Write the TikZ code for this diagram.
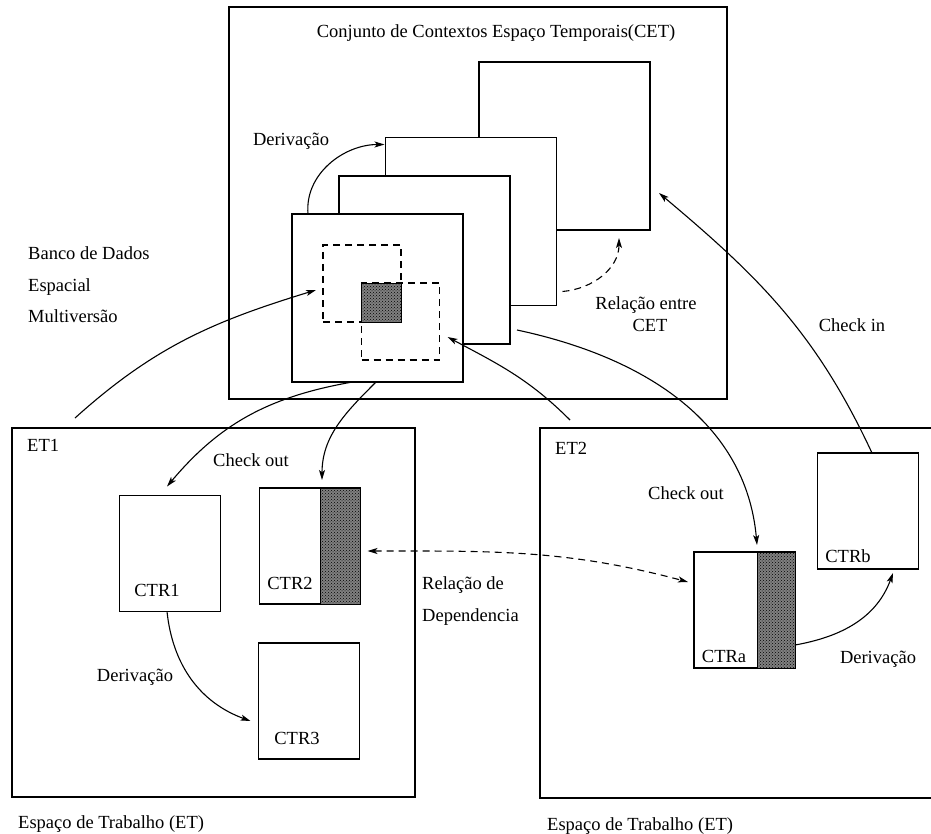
\documentclass[tikz,border=0pt]{standalone}
\usepackage{fontspec}
\setmainfont{Liberation Serif}
\usepackage{tikz}
\usetikzlibrary{arrows.meta, positioning, calc, patterns}

\begin{document}
\begin{tikzpicture}[x=1pt, y=1pt,
  box/.style={draw, line width=1.2pt, fill=white, inner sep=0pt, outer sep=0pt},
  layer/.style={box, minimum width=171pt, minimum height=168pt},
  ctr/.style={box, minimum width=101pt, minimum height=116pt},
  dbox/.style={draw, line width=1.2pt, dash pattern=on 7pt off 5pt, inner sep=0pt, outer sep=0pt,
               minimum width=78pt, minimum height=77pt},
  hatchfill/.style={draw, line width=1pt, fill=black!50, postaction={pattern=crosshatch dots, pattern color=black}},
  lbl/.style={font=\fontsize{18.5}{22}\selectfont, inner sep=0pt},
  arr/.style={-{Stealth[length=10pt, width=6pt, inset=2.5pt]}, line width=1.1pt},
  darr/.style={arr, dash pattern=on 7pt off 5pt}
]
\useasboundingbox (0,0) rectangle (931,-834);

\node[box, minimum width=498pt, minimum height=392pt] (cet) at (478,-203) {};
\node[layer] (layer4) at (564.5,-146) {};
\node[layer] (layer3) at (471,-221.5) {};
\node[layer] (layer2) at (424.5,-260) {};
\node[layer] (layer1) at (377.5,-298) {};
\node[dbox] (dashA) at (362,-283.5) {};
\node[dbox] (dashB) at (400.5,-321.5) {};
\filldraw[hatchfill] (dashB.north west) rectangle (dashA.south east);

\node[box, minimum width=403pt, minimum height=369pt] (et1) at (213.5,-612.5) {};
\node[box, draw=none, minimum width=420pt, minimum height=370pt] (et2) at (750,-613) {};
\draw[line width=1.2pt] (et2.north east) -- (et2.north west) -- (et2.south west) -- (et2.south east);

\node[ctr] (ctr1) at (170,-553.5) {};
\node[ctr] (ctr2) at (310,-546) {};
\node[ctr] (ctr3) at (309,-701) {};
\node[ctr] (ctra) at (744.5,-610) {};
\node[ctr] (ctrb) at (868,-511) {};
\filldraw[hatchfill] ([xshift=-40pt]ctr2.north east) rectangle (ctr2.south east);
\filldraw[hatchfill] ([xshift=-38pt]ctra.north east) rectangle (ctra.south east);

\node[lbl, anchor=base] (titulo) at (496,-38) {Conjunto de Contextos Espaço Temporais(CET)};
\node[lbl, anchor=base] (derivtop) at (291,-146) {Derivação};
\node[lbl, anchor=base west] (banco) at (28,-260) {Banco de Dados};
\node[lbl, anchor=base west] (espacial) at (28,-291) {Espacial};
\node[lbl, anchor=base west] (multi) at (28,-322) {Multiversão};
\node[lbl, anchor=base] (relcet) at (646,-309) {Relação entre};
\node[lbl, anchor=base] (relcet2) at (650,-331) {CET};
\node[lbl, anchor=base] (checkin) at (852,-331) {Check in};
\node[lbl, anchor=base west] (et1lbl) at (27,-451) {ET1};
\node[lbl, anchor=base] (chkout1) at (251,-466) {Check out};
\node[lbl, anchor=base] (ctr1lbl) at (157,-596) {CTR1};
\node[lbl, anchor=base] (ctr2lbl) at (290,-589) {CTR2};
\node[lbl, anchor=base] (ctr3lbl) at (297,-744) {CTR3};
\node[lbl, anchor=base] (deriv1) at (135,-681) {Derivação};
\node[lbl, anchor=base west] (reldep) at (422,-589) {Relação de};
\node[lbl, anchor=base west] (reldep2) at (422,-621) {Dependencia};
\node[lbl, anchor=base west] (et2lbl) at (555,-454) {ET2};
\node[lbl, anchor=base] (chkout2) at (686,-499) {Check out};
\node[lbl, anchor=base] (ctralbl) at (724,-662) {CTRa};
\node[lbl, anchor=base] (ctrblbl) at (848,-562) {CTRb};
\node[lbl, anchor=base] (deriv2) at (878,-663) {Derivação};
\node[lbl, anchor=base west] (esp1) at (18,-828) {Espaço de Trabalho (ET)};
\node[lbl, anchor=base west] (esp2) at (547,-830) {Espaço de Trabalho (ET)};

\draw[arr] ([xshift=16pt]layer1.north west) to[out=95,in=180] ([xshift=-1pt,yshift=-7pt]layer3.north west);
\draw[darr] ([xshift=6pt,yshift=14pt]layer3.south east) to[out=5,in=-90] ([xshift=54.5pt,yshift=-8pt]layer4.south);
\draw[arr] ([xshift=63pt,yshift=10pt]et1.north west) to[out=42,in=197] ([xshift=-7pt,yshift=-6.5pt]dashA.west);
\draw[arr] ([xshift=30pt,yshift=8pt]et2.north west) to[out=135,in=-28] ([xshift=8pt,yshift=-15.5pt]dashB.east);
\draw[arr] ([xshift=7pt,yshift=14pt]layer2.south east) to[out=-12,in=95] ([xshift=12.5pt,yshift=7pt]ctra.north);
\draw[arr] ([xshift=4pt]ctrb.north) to[out=115,in=-40] ([xshift=9pt,yshift=37pt]layer4.south east);
\draw[arr] ([xshift=-25pt]layer1.south) to[out=190,in=50] ([xshift=-3pt,yshift=9pt]ctr1.north);
\draw[arr] ([xshift=-1.5pt]layer1.south) to[out=225,in=90] ([xshift=12pt,yshift=8pt]ctr2.north);
\draw[arr] ([xshift=-3pt]ctr1.south) to[out=-84,in=160] ([xshift=-8pt,yshift=-20pt]ctr3.west);
\draw[darr, {Stealth[length=10pt, width=6pt, inset=2.5pt]}-{Stealth[length=10pt, width=6pt, inset=2.5pt]}]
  ([xshift=7pt,yshift=-5pt]ctr2.east) to[out=0,in=165] ([xshift=-6pt,yshift=28pt]ctra.west);
\draw[arr] ([yshift=-35pt]ctra.east) to[out=10,in=-110] ([xshift=25pt,yshift=-4pt]ctrb.south);
\end{tikzpicture}
\end{document}
